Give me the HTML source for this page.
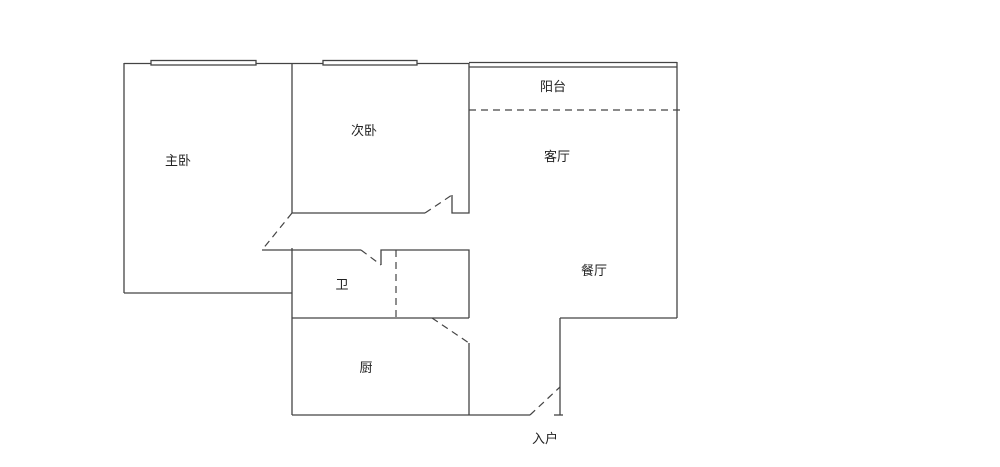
<!DOCTYPE html>
<html><head><meta charset="utf-8"><style>
html,body{margin:0;padding:0;background:#fff;}
svg{display:block}
text{font-family:"Liberation Sans","Noto Sans CJK SC",sans-serif;font-size:13px;fill:#222;text-anchor:middle}
</style></head><body>
<svg width="1000" height="467" viewBox="0 0 1000 467" xmlns="http://www.w3.org/2000/svg">
<g stroke="#444" stroke-width="1.3" fill="none">
<!-- top wall -->
<line x1="124" y1="63.5" x2="469" y2="63.5"/>
<rect x="151" y="60.5" width="105" height="4.5" fill="#fff"/>
<rect x="323" y="60.5" width="94" height="4.5" fill="#fff"/>
<line x1="469" y1="62.5" x2="677" y2="62.5"/>
<line x1="469" y1="67" x2="677" y2="67"/>
<!-- master bedroom -->
<line x1="124" y1="63" x2="124" y2="293"/>
<line x1="124" y1="293" x2="292" y2="293"/>
<line x1="292" y1="63" x2="292" y2="213"/>
<!-- 2nd bedroom bottom -->
<line x1="292" y1="213" x2="425" y2="213"/>
<polyline points="452,195 452,213 469,213 469,63"/>
<!-- balcony/living right -->
<line x1="677" y1="62" x2="677" y2="318"/>
<line x1="560" y1="318" x2="677" y2="318"/>
<line x1="560" y1="318" x2="560" y2="415"/>
<line x1="554" y1="415" x2="563" y2="415"/>
<!-- bath -->
<line x1="262" y1="250" x2="361" y2="250"/>
<polyline points="381,265 381,250 469,250 469,318"/>
<line x1="292" y1="248" x2="292" y2="415"/>
<line x1="292" y1="318" x2="469" y2="318"/>
<!-- kitchen -->
<line x1="469" y1="343" x2="469" y2="415"/>
<line x1="292" y1="415" x2="530" y2="415"/>
</g>
<g stroke="#444" stroke-width="1.2" fill="none" stroke-dasharray="7,5">
<line x1="469" y1="110" x2="680" y2="110"/>
<line x1="425" y1="213" x2="452" y2="195"/>
<line x1="292" y1="213" x2="262" y2="250"/>
<line x1="361" y1="250" x2="381" y2="265"/>
<line x1="396" y1="250" x2="396" y2="318"/>
<line x1="432" y1="318" x2="469" y2="343"/>
<line x1="530" y1="415" x2="560" y2="387"/>
</g>
<text x="178" y="165">主卧</text>
<text x="364" y="135">次卧</text>
<text x="553" y="91">阳台</text>
<text x="557" y="161">客厅</text>
<text x="594" y="275">餐厅</text>
<text x="342" y="289">卫</text>
<text x="366" y="372">厨</text>
<text x="545" y="443">入户</text>
</svg>
</body></html>
